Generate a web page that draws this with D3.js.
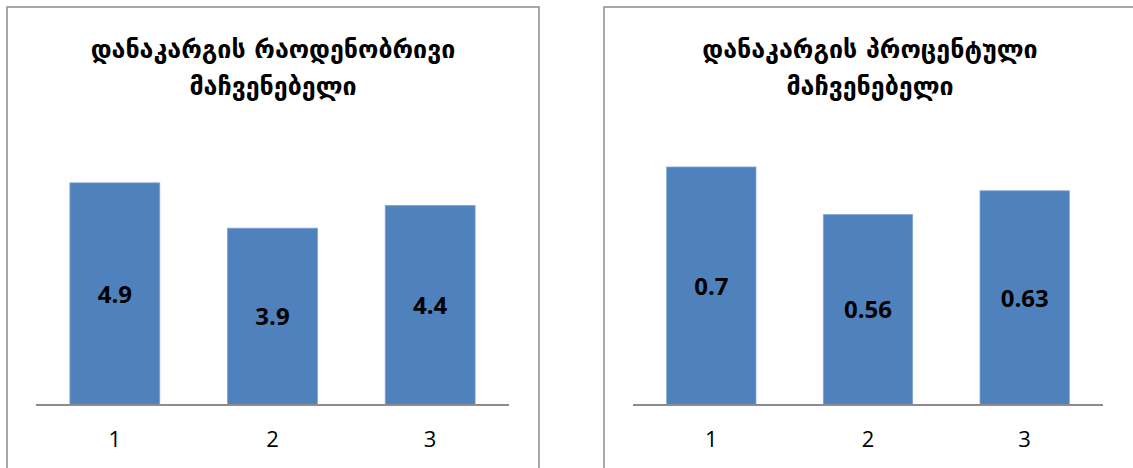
<!DOCTYPE html>
<html lang="ka">
<head>
<meta charset="UTF-8">
<title>დანაკარგის მაჩვენებელი</title>
<script src="https://d3js.org/d3.v7.min.js"></script>
<style>
	body{margin:0;background:#fff}
	svg{display:block}
	.title{font-family:"DejaVu Sans",sans-serif;font-weight:bold;font-size:25px;fill:#000}
	.tick text{font-family:"Open Sans","Liberation Sans",sans-serif;font-size:22px;fill:#000}
	.lbl{font-family:"Open Sans","Liberation Sans",sans-serif;font-weight:bold;font-size:24px;fill:#000}
</style>
</head>
<body>
<svg id="chart" width="1133" height="468"></svg>
<script>
	// data
	var categories = ["1", "2", "3"];
	var countValues = [4.9, 3.9, 4.4];
	var percentValues = [0.7, 0.56, 0.63];
	var titles = [
		["დანაკარგის რაოდენობრივი", "მაჩვენებელი"],
		["დანაკარგის პროცენტული", "მაჩვენებელი"]
	];
	var yMax = [6, 0.8];

	var svg = d3.select("#chart");

	var panels = [
		{x: 7, w: 532, plotL: 36, plotR: 509, values: countValues},
		{x: 604, w: 532, plotL: 633, plotR: 1103, values: percentValues}
	];
	var plotTop = 133, plotBottom = 405;

	panels.forEach(function(p, i){
		var g = svg.append("g");

		// panel border
		g.append("rect")
			.attr("x", p.x).attr("y", 7)
			.attr("width", p.w).attr("height", 480)
			.attr("fill", "#fff")
			.attr("stroke", "#8c8c8c")
			.attr("stroke-width", 1.5);

		// title
		var cx = p.x + p.w / 2;
		g.append("text").attr("class", "title")
			.attr("x", cx).attr("y", 58).attr("text-anchor", "middle")
			.text(titles[i][0]);
		g.append("text").attr("class", "title")
			.attr("x", cx).attr("y", 95).attr("text-anchor", "middle")
			.text(titles[i][1]);

		var x = d3.scaleBand().domain(categories).range([p.plotL, p.plotR]).paddingInner(0.43).paddingOuter(0.215);
		var y = d3.scaleLinear().domain([0, yMax[i]]).range([plotBottom, plotTop]);

		g.selectAll(".bar").data(p.values).enter().append("rect")
			.attr("class", "bar")
			.attr("x", function(d, j){ return x(categories[j]); })
			.attr("y", function(d){ return y(d); })
			.attr("width", x.bandwidth())
			.attr("height", function(d){ return plotBottom - y(d); })
			.attr("fill", "#4f81bd")
			.attr("stroke", "#7fa3d1")
			.attr("stroke-width", 0.8);

		g.selectAll(".lbl").data(p.values).enter().append("text")
			.attr("class", "lbl")
			.attr("x", function(d, j){ return x(categories[j]) + x.bandwidth() / 2; })
			.attr("y", function(d){ return (y(d) + plotBottom) / 2; })
			.attr("dy", "0.36em")
			.attr("text-anchor", "middle")
			.text(function(d){ return d; });

		var xAxis = d3.axisBottom(x).tickSize(0).tickPadding(26);
		var ax = g.append("g").attr("transform", "translate(0," + plotBottom + ")").call(xAxis);
		ax.select(".domain")
			.attr("d", "M" + p.plotL + ",0H" + p.plotR)
			.attr("stroke", "#8c8c8c").attr("stroke-width", 2);
		ax.selectAll(".tick text").attr("font-size", null).attr("font-family", null);
	});
</script>
</body>
</html>
